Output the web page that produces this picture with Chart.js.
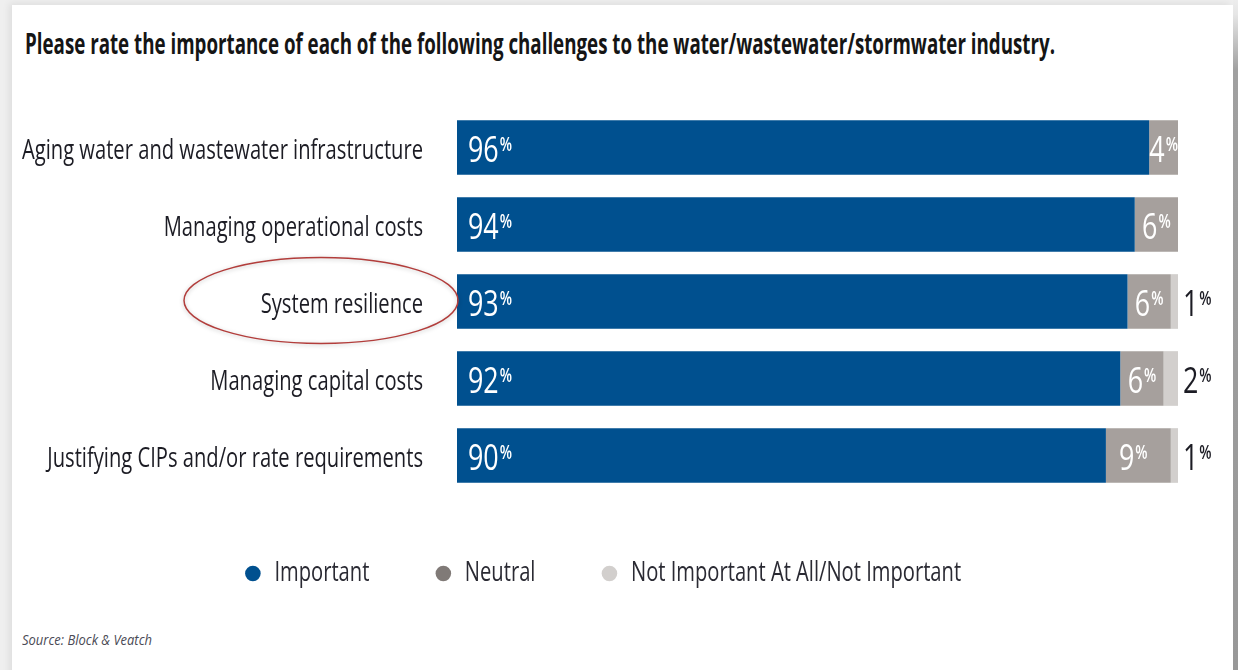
<!DOCTYPE html>
<html>
<head>
<meta charset="utf-8">
<script src="https://cdn.jsdelivr.net/npm/chart.js@4.4.1/dist/chart.umd.min.js"></script>
<style>
  html, body { margin: 0; padding: 0; width: 1238px; height: 670px; overflow: hidden; background: #efefef; }
  #panel { position: absolute; left: 12px; top: 5px; width: 1221px; height: 680px; background: #fff;
           box-shadow: -3px -2px 7px rgba(0,0,0,0.07); }
  #edge { position: absolute; left: 1233px; top: 0; width: 5px; height: 670px;
          background: linear-gradient(#ededed 0px, #e6e6e6 14px, #a0a0a0 70px, #989898 100%); }
  #title { position: absolute; left: 25px; top: 27px; white-space: nowrap; transform-origin: 0 0;
           font: bold 29px 'Open Sans', 'Liberation Sans', sans-serif;
           color: #151515; line-height: 32px; }
  #source { position: absolute; left: 22px; top: 629px; white-space: nowrap; transform-origin: 0 0;
            font: italic 15px 'Open Sans', 'Liberation Sans', sans-serif; color: #4a4a55; line-height: 20px; }
  #wrap { position: absolute; left: 0; top: 0; width: 1238px; height: 670px; }
</style>
</head>
<body>
<div id="panel"></div>
<div id="edge"></div>
<div id="title">Please rate the importance of each of the following challenges to the water/wastewater/stormwater industry.</div>
<div id="source">Source: Block &amp; Veatch</div>
<div id="wrap"><canvas id="chart" width="1238" height="670"></canvas></div>
<script>
// Survey categories and response shares (percent)
const categories = [
  'Aging water and wastewater infrastructure',
  'Managing operational costs',
  'System resilience',
  'Managing capital costs',
  'Justifying CIPs and/or rate requirements'
];
const importantValues = [96, 94, 93, 92, 90];
const neutralValues = [4, 6, 6, 6, 9];
const notImportantValues = [0, 0, 1, 2, 1];
const seriesNames = ['Important', 'Neutral', 'Not Important At All/Not Important'];
const highlightedCategory = 'System resilience';

const FAMILY = "'Open Sans', 'Liberation Sans', sans-serif";
const LABEL_SIZE = 27;
const COLORS = ['#00508f', '#a6a09d', '#d2cfcd'];
const LEGEND_COLORS = ['#00508f', '#807a77', '#d2cfcd'];

// squeeze an HTML line to a given printed width
function fitWidth(id, target) {
  const el = document.getElementById(id);
  el.style.transform = 'scaleX(' + (target / el.getBoundingClientRect().width) + ')';
}
fitWidth('title', 1030);
fitWidth('source', 130);

// The typeface used in print is a condensed one; the canvas text is squeezed
// horizontally by the same factor everywhere, and measurements follow suit.
const canvas = document.getElementById('chart');
const ctx2d = canvas.getContext('2d');
ctx2d.font = LABEL_SIZE + 'px ' + FAMILY;
const CONDENSE = 401 / ctx2d.measureText(categories[0]).width;
(function condense(ctx, k) {
  const fill = CanvasRenderingContext2D.prototype.fillText;
  const measure = CanvasRenderingContext2D.prototype.measureText;
  ctx.fillText = function (text, x, y) {
    this.save();
    this.translate(x, y);
    this.scale(k, 1);
    fill.call(this, text, 0, 0);
    this.restore();
  };
  ctx.measureText = function (text) {
    const m = measure.call(this, text);
    return {
      width: m.width * k,
      actualBoundingBoxLeft: m.actualBoundingBoxLeft * k,
      actualBoundingBoxRight: m.actualBoundingBoxRight * k,
      actualBoundingBoxAscent: m.actualBoundingBoxAscent,
      actualBoundingBoxDescent: m.actualBoundingBoxDescent,
      fontBoundingBoxAscent: m.fontBoundingBoxAscent,
      fontBoundingBoxDescent: m.fontBoundingBoxDescent
    };
  };
})(ctx2d, CONDENSE);

// value labels: big number with a superscript percent sign
const valueLabels = {
  id: 'valueLabels',
  afterDatasetsDraw(chart) {
    const ctx = chart.ctx;
    const area = chart.chartArea;
    const numFont = '36px ' + FAMILY;
    const supFont = '600 19px ' + FAMILY;
    chart.data.datasets.forEach((ds, di) => {
      const meta = chart.getDatasetMeta(di);
      meta.data.forEach((bar, i) => {
        const v = ds.data[i];
        if (!v) return;
        const left = Math.min(bar.x, bar.base);
        const right = Math.max(bar.x, bar.base);
        const w = right - left;
        const txt = String(v);
        ctx.save();
        ctx.font = numFont;
        const nw = ctx.measureText(txt).width;
        ctx.font = supFont;
        const sw = ctx.measureText('%').width;
        const tw = nw + sw + 1;
        let x, color;
        if (di === 0) { x = left + 11; color = '#ffffff'; }
        else if (di === 1) { x = left + Math.min(13, (w - tw) / 2); color = '#ffffff'; }
        else { x = area.right + 5; color = '#1c1c24'; }
        ctx.fillStyle = color;
        ctx.textAlign = 'left';
        ctx.textBaseline = 'alphabetic';
        ctx.font = numFont;
        ctx.fillText(txt, x, bar.y + 14);
        ctx.font = supFont;
        ctx.fillText('%', x + nw + 1, bar.y + 3);
        ctx.restore();
      });
    });
  }
};

// red ring drawn around one of the category names
const highlightRing = {
  id: 'highlightRing',
  afterDraw(chart) {
    const y = chart.scales.y;
    const idx = categories.indexOf(highlightedCategory);
    if (idx < 0) return;
    const cy = y.getPixelForValue(idx) - 1;
    const cx = chart.chartArea.left - 136;
    const ctx = chart.ctx;
    ctx.save();
    ctx.shadowColor = 'rgba(0,0,0,0.25)';
    ctx.shadowBlur = 4;
    ctx.shadowOffsetY = 1;
    ctx.strokeStyle = '#b23d3b';
    ctx.lineWidth = 1.5;
    ctx.beginPath();
    ctx.ellipse(cx, cy, 137, 43, 0, 0, Math.PI * 2);
    ctx.stroke();
    ctx.restore();
  }
};

// the legend row sits a little right of the plot's centre
const legendShift = {
  id: 'legendShift',
  afterLayout(chart) {
    if (chart.legend) { chart.legend.left += 8; chart.legend.right += 8; }
  }
};

const valueSets = [importantValues, neutralValues, notImportantValues];

new Chart(canvas, {
  type: 'bar',
  data: {
    labels: categories,
    datasets: seriesNames.map((name, k) => ({
      label: name,
      data: valueSets[k],
      backgroundColor: COLORS[k],
      borderWidth: 0,
      barPercentage: 0.71,
      categoryPercentage: 1.0
    }))
  },
  options: {
    indexAxis: 'y',
    responsive: false,
    animation: false,
    devicePixelRatio: 1,
    layout: { padding: { left: 12, right: 60, top: 109, bottom: 73 } },
    scales: {
      x: { stacked: true, min: 0, max: 100, display: false },
      y: {
        stacked: true,
        grid: { display: false, drawTicks: false },
        border: { display: false },
        ticks: { color: '#1c1c24', padding: 34, labelOffset: 4, font: { family: FAMILY, size: LABEL_SIZE } },
        afterFit(scale) { scale.width = 445; }
      }
    },
    plugins: {
      tooltip: { enabled: false },
      legend: {
        position: 'bottom',
        labels: {
          usePointStyle: true,
          pointStyle: 'circle',
          boxWidth: 16,
          boxHeight: 11,
          padding: 66,
          color: '#2a2a33',
          font: { family: FAMILY, size: 27 },
          generateLabels(chart) {
            return chart.data.datasets.map((ds, k) => ({
              text: ds.label,
              fillStyle: LEGEND_COLORS[k],
              strokeStyle: LEGEND_COLORS[k],
              lineWidth: 0,
              pointStyle: 'circle',
              fontColor: '#2a2a33',
              datasetIndex: k,
              hidden: false
            }));
          }
        }
      }
    }
  },
  plugins: [valueLabels, highlightRing, legendShift]
});
</script>
</body>
</html>
